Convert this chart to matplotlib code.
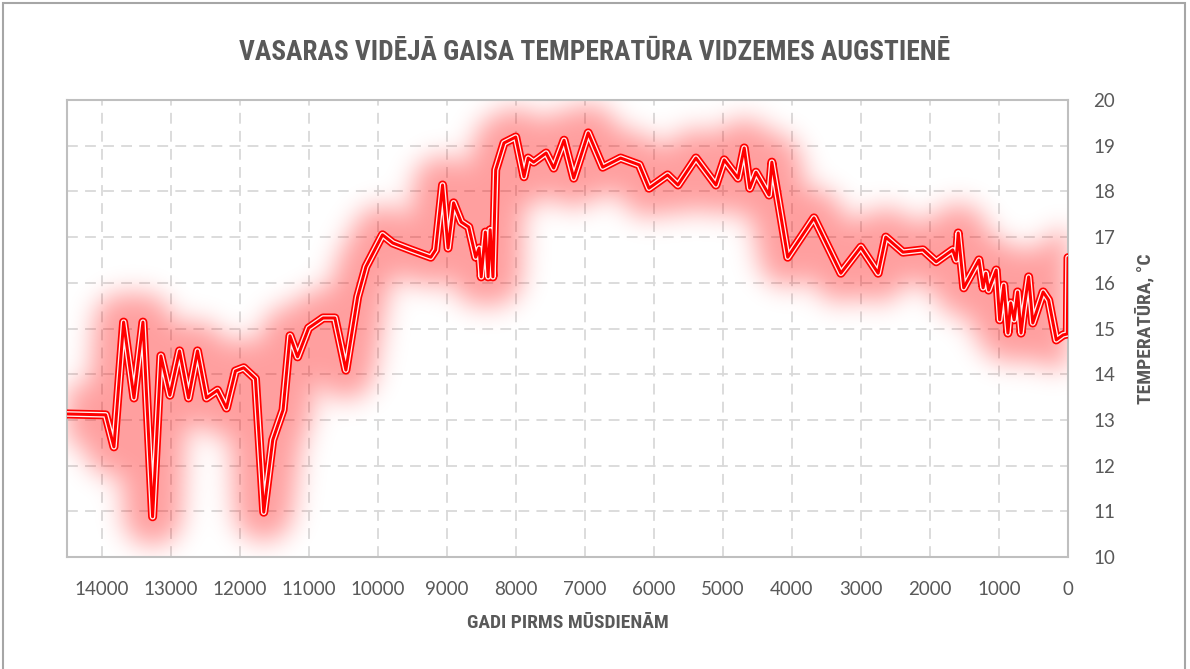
import matplotlib
matplotlib.use("Agg")
import matplotlib.pyplot as plt
from matplotlib.patches import Rectangle
import numpy as np

# --- Data (years before present, summer mean air temperature) ---
years = [14500, 13940, 13820, 13680, 13530, 13400, 13260, 13140, 13010, 12870,
         12740, 12610, 12480, 12320, 12190, 12060, 11940, 11770, 11650, 11520,
         11370, 11270, 11160, 11000, 10790, 10620, 10460, 10290, 10170, 9930,
         9780, 9520, 9230, 9160, 9060, 8980, 8900, 8790, 8680, 8580,
         8530, 8500, 8440, 8400, 8370, 8330, 8290, 8170, 8000, 7880,
         7820, 7740, 7560, 7450, 7300, 7160, 6950, 6740, 6480, 6210,
         6070, 5800, 5650, 5390, 5100, 4980, 4780, 4690, 4610, 4520,
         4330, 4290, 4060, 3680, 3290, 3000, 2750, 2640, 2390, 2100,
         1910, 1670, 1620, 1590, 1510, 1290, 1230, 1190, 1150, 1040,
         990, 930, 870, 830, 780, 730, 680, 640, 570, 510,
         360, 280, 170, 70, 10, 0]
temps = [13.13, 13.11, 12.41, 15.14, 13.48, 15.14, 10.88, 14.40, 13.54, 14.51,
         13.48, 14.51, 13.48, 13.65, 13.26, 14.07, 14.14, 13.90, 10.98, 12.56,
         13.22, 14.84, 14.38, 15.01, 15.23, 15.23, 14.09, 15.69, 16.35, 17.05,
         16.87, 16.72, 16.56, 16.72, 18.14, 16.76, 17.75, 17.33, 17.22, 16.56,
         16.76, 16.13, 17.11, 16.13, 17.16, 16.13, 18.47, 19.06, 19.19, 18.32,
         18.73, 18.64, 18.84, 18.51, 19.12, 18.29, 19.28, 18.53, 18.73, 18.58,
         18.07, 18.36, 18.14, 18.73, 18.14, 18.69, 18.29, 18.95, 18.07, 18.42,
         17.92, 18.64, 16.56, 17.42, 16.21, 16.78, 16.21, 17.00, 16.67, 16.72,
         16.46, 16.72, 16.50, 17.09, 15.89, 16.50, 15.89, 16.21, 15.84, 16.28,
         15.19, 15.95, 14.90, 15.56, 15.19, 15.80, 14.90, 15.40, 16.13, 15.12,
         15.80, 15.62, 14.75, 14.86, 14.88, 16.55]

x_ticks = list(range(14000, -1, -1000))
y_ticks = list(range(10, 21))

TITLE = "VASARAS VIDĒJĀ GAISA TEMPERATŪRA VIDZEMES AUGSTIENĒ"
XLABEL = "GADI PIRMS MŪSDIENĀM"
YLABEL = "TEMPERATŪRA, °C"

GRAY = "#595959"
COND = ["Roboto Condensed", "DejaVu Sans Condensed", "Liberation Sans Narrow",
        "Roboto", "DejaVu Sans"]
DPI = 100
W, H = 1190, 669
AX_RECT = [67 / W, 112 / H, 1001 / W, 457 / H]
XLIM = (14500, 0)
YLIM = (10, 20)


def px(p):
    # pixel width -> points
    return p * 72.0 / DPI


def gauss_blur(img, sigma):
    r = int(3 * sigma)
    k = np.exp(-0.5 * (np.arange(-r, r + 1) / sigma) ** 2)
    k /= k.sum()
    img = np.pad(img, r, mode="constant")
    img = np.apply_along_axis(lambda v: np.convolve(v, k, mode="same"), 0, img)
    img = np.apply_along_axis(lambda v: np.convolve(v, k, mode="same"), 1, img)
    return img[r:-r, r:-r]


# --- glow mask: render a thick stroke offscreen and blur it ---
gfig = plt.figure(figsize=(W / DPI, H / DPI), dpi=DPI)
gax = gfig.add_axes(AX_RECT)
gax.plot(years, temps, color="black", lw=px(58), solid_capstyle="round",
         solid_joinstyle="round")
gax.set_xlim(*XLIM)
gax.set_ylim(*YLIM)
gax.axis("off")
gfig.canvas.draw()
buf = np.asarray(gfig.canvas.buffer_rgba())[:, :, 0].astype(float)
plt.close(gfig)
mask = 1.0 - buf / 255.0
mask = gauss_blur(mask, 13)
x0, x1 = int(round(AX_RECT[0] * W)), int(round((AX_RECT[0] + AX_RECT[2]) * W))
y1, y0 = H - int(round(AX_RECT[1] * H)), H - int(round((AX_RECT[1] + AX_RECT[3]) * H))
mask = mask[y0:y1, x0:x1]
glow = np.zeros(mask.shape + (4,))
glow[..., 0] = 1.0
glow[..., 3] = np.clip(mask, 0, 1) * 0.38

# --- main figure ---
fig = plt.figure(figsize=(W / DPI, H / DPI), dpi=DPI)
ax = fig.add_axes(AX_RECT)

ax.imshow(glow, extent=(XLIM[0], XLIM[1], YLIM[0], YLIM[1]), aspect="auto",
          interpolation="bilinear", zorder=2)

# compound line: red / white / red
ax.plot(years, temps, color="#ff0000", lw=px(9), solid_joinstyle="round",
        solid_capstyle="round", zorder=4)
ax.plot(years, temps, color="#fff2f2", lw=px(5.6), solid_joinstyle="round",
        solid_capstyle="round", zorder=5)
ax.plot(years, temps, color="#ff0000", lw=px(3), solid_joinstyle="round",
        solid_capstyle="round", zorder=6)

ax.set_xlim(*XLIM)
ax.set_ylim(*YLIM)
ax.set_xticks(x_ticks)
ax.set_yticks(y_ticks)
ax.yaxis.tick_right()
ax.yaxis.set_label_position("right")
ax.tick_params(axis="both", length=0, labelsize=13.5, labelcolor=GRAY)
ax.tick_params(axis="x", pad=17)
ax.tick_params(axis="y", pad=18)
for lab in ax.get_xticklabels() + ax.get_yticklabels():
    lab.set_family(["Lato", "DejaVu Sans"])

ax.grid(True, color="#d9d9d9", linestyle=(0, (6, 4)), linewidth=1.3, zorder=0)
ax.set_axisbelow(True)
for s in ax.spines.values():
    s.set_color("#bfbfbf")
    s.set_linewidth(1.5)

ax.set_xlabel(XLABEL, fontsize=14, fontweight="bold", color=GRAY,
              family=COND, fontstretch="condensed", labelpad=12)
ax.set_ylabel(YLABEL, fontsize=14, fontweight="bold", color=GRAY,
              family=COND, fontstretch="condensed", labelpad=14, rotation=90)

fig.text(0.5, 1 - 52 / H, TITLE, ha="center", va="center", fontsize=19.7,
         fontweight="bold", color=GRAY, family=COND, fontstretch="condensed")

# outer chart border
fig.patches.append(Rectangle((3 / W, -0.05), 1182 / W, 1.05 - 3 / H,
                             transform=fig.transFigure, fill=False,
                             edgecolor="#a6a6a6", linewidth=1.5))

fig.savefig("out.png", dpi=DPI)
